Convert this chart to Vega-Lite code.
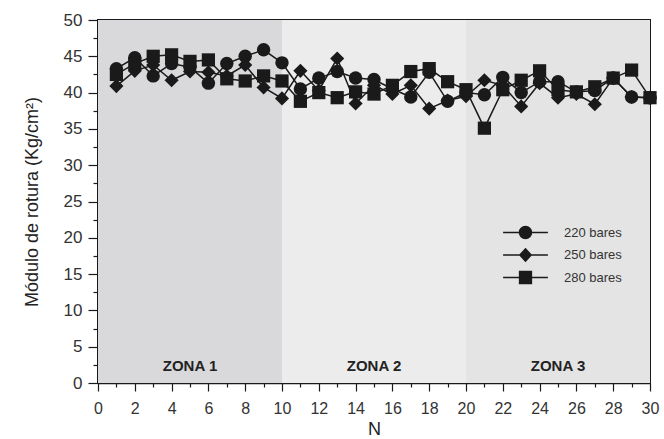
{
  "$schema": "https://vega.github.io/schema/vega-lite/v6.json",
  "width": 552,
  "height": 363,
  "autosize": {"type": "none"},
  "padding": {"left": 98, "top": 20, "right": 14, "bottom": 56},
  "background": "white",
  "config": {
    "font": "Liberation Sans",
    "view": {"stroke": "#1a1a1a", "strokeWidth": 2},
    "axis": {"grid": false, "domainColor": "#1a1a1a", "domainWidth": 1.5, "tickColor": "#1a1a1a", "tickWidth": 1.2, "labelColor": "#333333", "titleColor": "#222222", "labelFont": "Liberation Sans", "titleFont": "Liberation Sans", "titleFontWeight": "normal"}
  },
  "resolve": {
    "axis": {"x": "independent", "y": "independent"}
  },
  "datasets": {
    "zones": [
      {"start": 0, "end": 10, "N": 5, "zone": "ZONA 1"},
      {"start": 10, "end": 20, "N": 15, "zone": "ZONA 2"},
      {"start": 20, "end": 30, "N": 25, "zone": "ZONA 3"}
    ],
    "series": [
      {"N": 1, "serie": "220 bares", "v": 43.3}, {"N": 2, "serie": "220 bares", "v": 44.8}, {"N": 3, "serie": "220 bares", "v": 42.3}, {"N": 4, "serie": "220 bares", "v": 44.0}, {"N": 5, "serie": "220 bares", "v": 43.5},
      {"N": 6, "serie": "220 bares", "v": 41.3}, {"N": 7, "serie": "220 bares", "v": 44.0}, {"N": 8, "serie": "220 bares", "v": 45.0}, {"N": 9, "serie": "220 bares", "v": 45.9}, {"N": 10, "serie": "220 bares", "v": 44.1},
      {"N": 11, "serie": "220 bares", "v": 40.5}, {"N": 12, "serie": "220 bares", "v": 42.0}, {"N": 13, "serie": "220 bares", "v": 42.9}, {"N": 14, "serie": "220 bares", "v": 42.0}, {"N": 15, "serie": "220 bares", "v": 41.8},
      {"N": 16, "serie": "220 bares", "v": 40.5}, {"N": 17, "serie": "220 bares", "v": 39.4}, {"N": 18, "serie": "220 bares", "v": 42.8}, {"N": 19, "serie": "220 bares", "v": 38.8}, {"N": 20, "serie": "220 bares", "v": 40.0},
      {"N": 21, "serie": "220 bares", "v": 39.7}, {"N": 22, "serie": "220 bares", "v": 42.1}, {"N": 23, "serie": "220 bares", "v": 40.0}, {"N": 24, "serie": "220 bares", "v": 41.5}, {"N": 25, "serie": "220 bares", "v": 41.5},
      {"N": 26, "serie": "220 bares", "v": 40.1}, {"N": 27, "serie": "220 bares", "v": 40.3}, {"N": 28, "serie": "220 bares", "v": 42.0}, {"N": 29, "serie": "220 bares", "v": 39.4}, {"N": 30, "serie": "220 bares", "v": 39.3},
      {"N": 1, "serie": "250 bares", "v": 40.9}, {"N": 2, "serie": "250 bares", "v": 43.0}, {"N": 3, "serie": "250 bares", "v": 43.8}, {"N": 4, "serie": "250 bares", "v": 41.7}, {"N": 5, "serie": "250 bares", "v": 42.9},
      {"N": 6, "serie": "250 bares", "v": 42.8}, {"N": 7, "serie": "250 bares", "v": 42.3}, {"N": 8, "serie": "250 bares", "v": 43.8}, {"N": 9, "serie": "250 bares", "v": 40.7}, {"N": 10, "serie": "250 bares", "v": 39.2},
      {"N": 11, "serie": "250 bares", "v": 43.0}, {"N": 12, "serie": "250 bares", "v": 40.3}, {"N": 13, "serie": "250 bares", "v": 44.7}, {"N": 14, "serie": "250 bares", "v": 38.5}, {"N": 15, "serie": "250 bares", "v": 41.0},
      {"N": 16, "serie": "250 bares", "v": 39.8}, {"N": 17, "serie": "250 bares", "v": 41.0}, {"N": 18, "serie": "250 bares", "v": 37.8}, {"N": 19, "serie": "250 bares", "v": 38.9}, {"N": 20, "serie": "250 bares", "v": 39.5},
      {"N": 21, "serie": "250 bares", "v": 41.7}, {"N": 22, "serie": "250 bares", "v": 41.0}, {"N": 23, "serie": "250 bares", "v": 38.1}, {"N": 24, "serie": "250 bares", "v": 41.3}, {"N": 25, "serie": "250 bares", "v": 39.3},
      {"N": 26, "serie": "250 bares", "v": 39.8}, {"N": 27, "serie": "250 bares", "v": 38.4}, {"N": 28, "serie": "250 bares", "v": 42.0}, {"N": 29, "serie": "250 bares", "v": 39.4}, {"N": 30, "serie": "250 bares", "v": 39.3},
      {"N": 1, "serie": "280 bares", "v": 42.5}, {"N": 2, "serie": "280 bares", "v": 44.0}, {"N": 3, "serie": "280 bares", "v": 45.0}, {"N": 4, "serie": "280 bares", "v": 45.2}, {"N": 5, "serie": "280 bares", "v": 44.3},
      {"N": 6, "serie": "280 bares", "v": 44.5}, {"N": 7, "serie": "280 bares", "v": 41.9}, {"N": 8, "serie": "280 bares", "v": 41.6}, {"N": 9, "serie": "280 bares", "v": 42.3}, {"N": 10, "serie": "280 bares", "v": 41.6},
      {"N": 11, "serie": "280 bares", "v": 38.8}, {"N": 12, "serie": "280 bares", "v": 40.0}, {"N": 13, "serie": "280 bares", "v": 39.3}, {"N": 14, "serie": "280 bares", "v": 40.1}, {"N": 15, "serie": "280 bares", "v": 39.8},
      {"N": 16, "serie": "280 bares", "v": 41.0}, {"N": 17, "serie": "280 bares", "v": 42.9}, {"N": 18, "serie": "280 bares", "v": 43.3}, {"N": 19, "serie": "280 bares", "v": 41.5}, {"N": 20, "serie": "280 bares", "v": 40.4},
      {"N": 21, "serie": "280 bares", "v": 35.1}, {"N": 22, "serie": "280 bares", "v": 40.4}, {"N": 23, "serie": "280 bares", "v": 41.7}, {"N": 24, "serie": "280 bares", "v": 43.0}, {"N": 25, "serie": "280 bares", "v": 40.4},
      {"N": 26, "serie": "280 bares", "v": 40.1}, {"N": 27, "serie": "280 bares", "v": 40.8}, {"N": 28, "serie": "280 bares", "v": 42.0}, {"N": 29, "serie": "280 bares", "v": 43.1}, {"N": 30, "serie": "280 bares", "v": 39.3}
    ]
  },
  "layer": [
    {
      "data": {"name": "zones"},
      "mark": {"type": "rect"},
      "encoding": {
        "x": {"field": "start", "type": "quantitative", "axis": null, "scale": {"domain": [0, 30], "nice": false, "zero": false}},
        "x2": {"field": "end"},
        "fill": {"field": "zone", "type": "nominal", "legend": null, "scale": {"domain": ["ZONA 1", "ZONA 2", "ZONA 3"], "range": ["#d9d9db", "#ececec", "#e4e4e4"]}}
      }
    },
    {
      "data": {"name": "zones"},
      "mark": {"type": "text", "font": "Liberation Sans", "fontWeight": "bold", "fontSize": 15, "color": "#222222", "baseline": "middle"},
      "encoding": {
        "x": {"field": "N", "type": "quantitative", "axis": null},
        "y": {"datum": 2.4, "type": "quantitative", "axis": null, "scale": {"domain": [0, 50], "nice": false}},
        "text": {"field": "zone"}
      }
    },
    {
      "data": {"name": "series"},
      "mark": {"type": "line", "color": "#1a1a1a", "strokeWidth": 1.5},
      "encoding": {
        "x": {
          "field": "N", "type": "quantitative", "title": null,
          "axis": {"orient": "bottom", "values": [1,3,5,7,9,11,13,15,17,19,21,23,25,27,29], "labels": false, "domain": false, "tickSize": 4, "title": null}
        },
        "y": {
          "field": "v", "type": "quantitative", "title": null,
          "axis": {"orient": "left", "values": [2.5,7.5,12.5,17.5,22.5,27.5,32.5,37.5,42.5,47.5], "labels": false, "domain": false, "tickSize": 5, "title": null}
        },
        "detail": {"field": "serie"}
      }
    },
    {
      "data": {"name": "series"},
      "transform": [{"filter": "datum.serie === '220 bares'"}],
      "mark": {"type": "point", "shape": "circle", "filled": true, "color": "#1a1a1a", "opacity": 1, "size": 180},
      "encoding": {
        "x": {
          "field": "N", "type": "quantitative", "title": "N",
          "axis": {
            "orient": "bottom",
            "values": [0,2,4,6,8,10,12,14,16,18,20,22,24,26,28,30],
            "labelOverlap": false, "labelBound": false, "labelFlush": false,
            "tickSize": 8, "labelPadding": 9, "labelFontSize": 16, "titleFontSize": 18, "titlePadding": 4
          }
        },
        "y": {
          "field": "v", "type": "quantitative", "title": "Módulo de rotura (Kg/cm²)",
          "axis": {
            "orient": "left",
            "values": [0,5,10,15,20,25,30,35,40,45,50],
            "labelOverlap": false, "labelBound": false, "labelFlush": false,
            "tickSize": 10, "labelPadding": 6, "labelFontSize": 17, "titleFontSize": 18, "titlePadding": 22
          }
        }
      }
    },
    {
      "data": {"name": "series"},
      "transform": [{"filter": "datum.serie === '250 bares'"}],
      "mark": {"type": "point", "shape": "diamond", "filled": true, "color": "#1a1a1a", "opacity": 1, "size": 200},
      "encoding": {
        "x": {"field": "N", "type": "quantitative", "axis": null},
        "y": {"field": "v", "type": "quantitative", "axis": null}
      }
    },
    {
      "data": {"name": "series"},
      "transform": [{"filter": "datum.serie === '280 bares'"}],
      "mark": {"type": "point", "shape": "square", "filled": true, "color": "#1a1a1a", "opacity": 1, "size": 175},
      "encoding": {
        "x": {"field": "N", "type": "quantitative", "axis": null},
        "y": {"field": "v", "type": "quantitative", "axis": null}
      }
    },
    {
      "data": {"name": "series"},
      "transform": [{"filter": "datum.N < 0"}],
      "mark": {"type": "point", "filled": true, "color": "#1a1a1a", "opacity": 1},
      "encoding": {
        "x": {"field": "N", "type": "quantitative", "axis": null},
        "y": {"field": "v", "type": "quantitative", "axis": null},
        "shape": {
          "field": "serie", "type": "nominal",
          "scale": {"domain": ["220 bares", "250 bares", "280 bares"], "range": [
            "M-3.2,-0.11H3.2V0.11H-3.2ZM0.96,0A0.96,0.96,0,1,1,-0.96,0A0.96,0.96,0,1,1,0.96,0Z",
            "M-3.2,-0.11H3.2V0.11H-3.2ZM0,-1.05L0.95,0L0,1.05L-0.95,0Z",
            "M-3.2,-0.11H3.2V0.11H-3.2ZM-0.95,-0.95H0.95V0.95H-0.95Z"
          ]},
          "legend": {
            "title": null, "orient": "none", "legendX": 420, "legendY": 205, "padding": 0,
            "symbolSize": 196, "rowPadding": 5.5, "labelOffset": 31,
            "labelFontSize": 13, "labelColor": "#333333", "labelFont": "Liberation Sans",
            "symbolFillColor": "#1a1a1a", "symbolStrokeColor": "#1a1a1a", "symbolStrokeWidth": 0.5, "symbolOpacity": 1
          }
        }
      }
    }
  ]
}
